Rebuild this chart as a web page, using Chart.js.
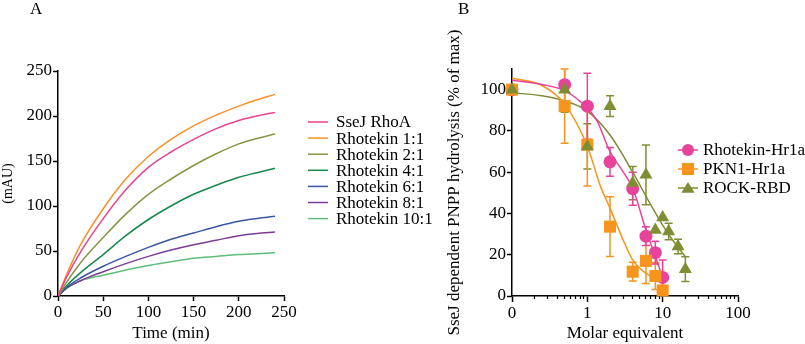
<!DOCTYPE html>
<html>
<head>
<meta charset="utf-8">
<script src="https://cdn.jsdelivr.net/npm/chart.js"></script>
<style>
  body{margin:0;background:#fff;}
  #wrap{position:relative;width:805px;height:344px;overflow:hidden;}
  canvas{position:absolute;left:0;top:0;}
  .panel{position:absolute;font-family:"Liberation Serif",serif;font-size:17px;line-height:17px;color:#000;}
</style>
</head>
<body>
<div id="wrap">
  <canvas id="chartA" width="805" height="344"></canvas>
  <canvas id="chartB" width="805" height="344"></canvas>
  <div class="panel" style="left:30px;top:0px;">A</div>
  <div class="panel" style="left:458px;top:0px;">B</div>
</div>
<script>
// panel A - time course
const timeMin=[0,10,25,50,75,100,125,150,175,200,220,240];
const sseJRhoA=[0,22,49,86,118,143,160,174,186,195,200,204];
const rhotekin1=[0,25,57,97,130,155,174,189,201,211,218,224];
const rhotekin2=[0,16,37,65,91,113,130,145,158,169,175,180];
const rhotekin4=[0,12,26,46,67,85,100,113,123,132,137,142];
const rhotekin6=[0,10,20,33,44,54,63,70,77,83,86,88.5];
const rhotekin8=[0,9,17,27,36,44,51,57,62,67,69.5,71];
const rhotekin10=[0,9,17,23,29,34,38,42,44,46,47,48];
const seriesNamesA=["SseJ RhoA","Rhotekin 1:1","Rhotekin 2:1","Rhotekin 4:1","Rhotekin 6:1","Rhotekin 8:1","Rhotekin 10:1"];
const colorsA=["#e8438f","#f7902a","#8b9347","#17874a","#3b55a5","#7a3d96","#5fbe7e"];
const ticksA=[0,50,100,150,200,250];

// panel B - inhibition
const molarEq=[0.1,0.5,1,2,4,6,8,10];
const rhotekinHr1a=[100,102.4,92,65,52,29,21,9];
const rhotekinHr1aErr=[0,0,16,7,8,4.5,5.5,8.5];
const pkn1Hr1a=[100,92,73.3,33.6,11.8,17,9.7,2.7];
const pkn1Hr1aErr=[0,18,20,14.5,4.5,11,6.5,0];
const rockEq=[0.1,0.5,1,2,4,6,8,10,12,16,20];
const rockRbd=[100,100,72.5,92,54.7,58.7,32,38,31.2,24,13];
const rockRbdErr=[0,11,11,5,8,14.5,0,0,4,3.5,6];
// fitted curves
const fitRhoX=[0.1,0.25,0.5,1,1.34,2,3,4,6,8,10];
const fitRhoY=[104.5,102.5,99.5,91,85,70,60,52.3,32,19,9];
const fitPknX=[0.1,0.25,0.5,1,1.5,2,3,4,6,8,10];
const fitPknY=[105.5,102,93,72.6,53,42.6,27,17.5,11,9,8];
const fitRockX=[0.1,0.25,0.5,1,2,4,7,11.4,20];
const fitRockY=[98.5,97,94.5,89.6,78,60,44,31,19];
const seriesNamesB=["Rhotekin-Hr1a","PKN1-Hr1a","ROCK-RBD"];
const colorsB=["#e8439a","#f7941d","#818d34"];
const stylesB=["circle","rect","triangle"];
const ticksBx=[0.1,1,10,100];
const ticksBy=[0,20,40,60,80,100];

const serif="'Liberation Serif', serif";
const pairs=(xs,ys)=>xs.map((x,i)=>({x:x,y:ys[i]}));

function drawMarker(ctx,style,x,y,r,color){
  ctx.fillStyle=color;
  ctx.beginPath();
  if(style==="circle"){
    ctx.arc(x,y,r,0,Math.PI*2);
  }else if(style==="rect"){
    ctx.rect(x-r,y-r,2*r,2*r);
  }else{
    ctx.moveTo(x,y-r);
    ctx.lineTo(x+r*1.1,y+r*0.8);
    ctx.lineTo(x-r*1.1,y+r*0.8);
    ctx.closePath();
  }
  ctx.fill();
}

const axisCommon=(title,size)=>({
  border:{color:"#000",width:1.5},
  grid:{drawOnChartArea:false,drawTicks:true,tickLength:5,color:"#000",tickWidth:1.5},
  ticks:{color:"#000",font:{family:serif,size:17,weight:"normal"},padding:1,maxRotation:0,autoSkip:false},
  title:{display:true,text:title,color:"#000",font:{family:serif,size:size,weight:"normal"},padding:0}
});

const legendA={
  id:"legendA",
  afterDraw(chart){
    const ctx=chart.ctx;
    ctx.save();
    ctx.font="17px "+serif;
    ctx.textBaseline="middle";
    seriesNamesA.forEach((n,i)=>{
      const y=122+i*16.1;
      ctx.strokeStyle=colorsA[i];
      ctx.lineWidth=1.5;
      ctx.beginPath();ctx.moveTo(308,y);ctx.lineTo(328,y);ctx.stroke();
      ctx.fillStyle="#000";
      ctx.fillText(n,336,y+1);
    });
    ctx.restore();
  }
};

let xA=axisCommon("Time (min)",17);
xA.type="linear";xA.min=0;xA.max=250;
xA.afterBuildTicks=s=>{s.ticks=ticksA.map(v=>({value:v}));};
xA.afterFit=s=>{s.height=48;};
let yA=axisCommon("(mAU)",14);
yA.min=0;yA.max=250;
yA.afterBuildTicks=s=>{s.ticks=ticksA.map(v=>({value:v}));};
yA.afterFit=s=>{s.width=58;};

const rawA=[sseJRhoA,rhotekin1,rhotekin2,rhotekin4,rhotekin6,rhotekin8,rhotekin10];
new Chart(document.getElementById("chartA"),{
  type:"line",
  data:{
    datasets:rawA.map((d,i)=>({
      label:seriesNamesA[i],
      data:pairs(timeMin,d),
      borderColor:colorsA[i],
      borderWidth:1.5,
      pointRadius:0,
      cubicInterpolationMode:"monotone",
      fill:false
    }))
  },
  options:{
    responsive:false,
    animation:false,
    layout:{padding:{left:0,top:71,right:521,bottom:0}},
    plugins:{legend:{display:false},tooltip:{enabled:false}},
    scales:{x:xA,y:yA}
  },
  plugins:[legendA]
});

const errorBars={
  id:"errorBars",
  beforeDatasetsDraw(chart){
    const ctx=chart.ctx;
    const xs=chart.scales.x, ys=chart.scales.y;
    ctx.save();
    chart.data.datasets.forEach(ds=>{
      if(!ds.errors)return;
      ctx.strokeStyle=ds.borderColor;
      ctx.lineWidth=1.5;
      ds.data.forEach((p,i)=>{
        const e=ds.errors[i];
        if(!e)return;
        const px=xs.getPixelForValue(p.x);
        const top=Math.max(ys.getPixelForValue(p.y+e),chart.chartArea.top);
        const bot=Math.min(ys.getPixelForValue(p.y-e),chart.chartArea.bottom);
        ctx.beginPath();
        ctx.moveTo(px,top);ctx.lineTo(px,bot);
        if(ys.getPixelForValue(p.y+e)>=chart.chartArea.top){ctx.moveTo(px-4,top);ctx.lineTo(px+4,top);}
        if(ys.getPixelForValue(p.y-e)<=chart.chartArea.bottom){ctx.moveTo(px-4,bot);ctx.lineTo(px+4,bot);}
        ctx.stroke();
      });
    });
    ctx.restore();
  }
};

const legendB={
  id:"legendB",
  afterDraw(chart){
    const ctx=chart.ctx;
    ctx.save();
    ctx.font="17px "+serif;
    ctx.textBaseline="middle";
    seriesNamesB.forEach((n,i)=>{
      const y=150+i*19;
      ctx.strokeStyle=colorsB[i];
      ctx.lineWidth=1.5;
      ctx.beginPath();ctx.moveTo(678,y);ctx.lineTo(698,y);ctx.stroke();
      drawMarker(ctx,stylesB[i],688,y,6,colorsB[i]);
      ctx.fillStyle="#000";
      ctx.fillText(n,703,y+1);
    });
    ctx.restore();
  }
};

// major ticks + labels
let xB=axisCommon("Molar equivalent",17);
xB.type="logarithmic";xB.min=0.1;xB.max=100;
xB.grid.tickLength=6;
xB.afterBuildTicks=s=>{s.ticks=ticksBx.map(v=>({value:v}));};
xB.ticks.callback=function(v){
  return v===0.1?"0":String(v);
};
xB.afterFit=s=>{s.height=48;};
// short minor ticks sitting on the same baseline
const xBminor={
  type:"logarithmic",axis:"x",min:0.1,max:100,
  position:{y:0},
  border:{display:false},
  grid:{drawOnChartArea:false,drawTicks:true,tickLength:3,color:"#000",tickWidth:1.2},
  ticks:{display:false},
  afterBuildTicks:s=>{
    const t=[];
    [0.1,1,10].forEach(d=>{for(let k=2;k<10;k++)t.push({value:+(d*k).toPrecision(3)});});
    s.ticks=t;
  }
};
let yB=axisCommon("SseJ dependent PNPP hydrolysis (% of max)",17);
yB.min=0;yB.max=110;
yB.afterBuildTicks=s=>{s.ticks=ticksBy.map(v=>({value:v}));};
yB.afterFit=s=>{s.width=68;};

const pointSet=(i,xs,ys,err)=>({
  type:"scatter",
  label:seriesNamesB[i],
  data:pairs(xs,ys),
  errors:err,
  borderColor:colorsB[i],
  backgroundColor:colorsB[i],
  pointStyle:stylesB[i],
  pointRadius:stylesB[i]==="rect"?8.5:(stylesB[i]==="triangle"?7.5:6.5),
  pointBorderWidth:0,
  showLine:false
});
const fitSet=(i,xs,ys)=>({
  type:"line",
  data:pairs(xs,ys),
  borderColor:colorsB[i],
  borderWidth:1.5,
  pointRadius:0,
  cubicInterpolationMode:"monotone",
  fill:false
});

new Chart(document.getElementById("chartB"),{
  type:"scatter",
  data:{
    datasets:[
      pointSet(2,rockEq,rockRbd,rockRbdErr),
      pointSet(1,molarEq,pkn1Hr1a,pkn1Hr1aErr),
      pointSet(0,molarEq,rhotekinHr1a,rhotekinHr1aErr),
      fitSet(0,fitRhoX,fitRhoY),
      fitSet(1,fitPknX,fitPknY),
      fitSet(2,fitRockX,fitRockY)
    ]
  },
  options:{
    responsive:false,
    animation:false,
    clip:false,
    layout:{padding:{left:444,top:69,right:67,bottom:0}},
    plugins:{legend:{display:false},tooltip:{enabled:false}},
    scales:{x:xB,xMinor:xBminor,y:yB}
  },
  plugins:[errorBars,legendB]
});
</script>
</body>
</html>
